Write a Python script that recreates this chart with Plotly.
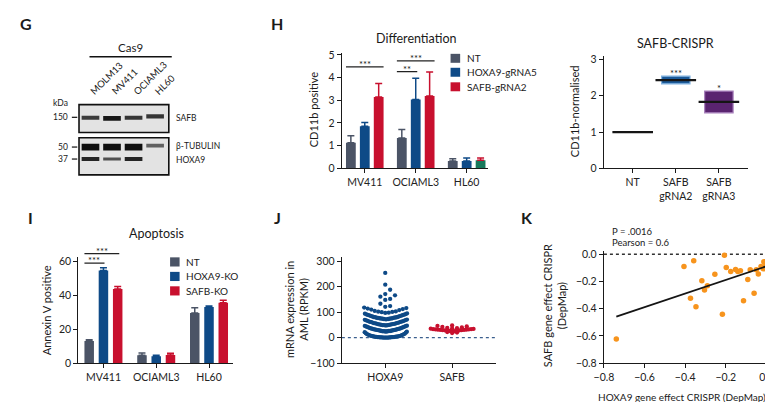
import numpy as np
import plotly.graph_objects as go

FONT = "Lato, 'Open Sans', sans-serif"
W, H = 773, 402

# ---------------- data ----------------
blot_lanes = ["MOLM13", "MV411", "OCIAML3", "HL60"]
blot_safb = [0.70, 0.95, 0.75, 0.75]
blot_tubulin = [1.00, 1.00, 1.00, 0.45]
blot_hoxa9 = [0.85, 0.55, 0.85, 0.00]
blot_kda = ["150", "50", "37"]
blot_proteins = ["SAFB", "β-TUBULIN", "HOXA9"]

diff_cells = ["MV411", "OCIAML3", "HL60"]
diff_nt = [1.13, 1.34, 0.32]
diff_nt_err = [0.31, 0.37, 0.10]
diff_hoxa9 = [1.85, 3.03, 0.32]
diff_hoxa9_err = [0.17, 0.94, 0.13]
diff_safb = [3.15, 3.19, 0.36]
diff_safb_err = [0.59, 1.06, 0.10]
diff_labels = ["NT", "HOXA9-gRNA5", "SAFB-gRNA2"]

crispr_groups = ["NT", "SAFB<br>gRNA2", "SAFB<br>gRNA3"]
crispr_q1 = [1.00, 2.33, 1.53]
crispr_median = [1.00, 2.43, 1.83]
crispr_q3 = [1.00, 2.54, 2.13]
crispr_sig = ["", "***", "*"]

apo_cells = ["MV411", "OCIAML3", "HL60"]
apo_nt = [13.0, 4.6, 29.5]
apo_nt_err = [0.7, 1.3, 3.1]
apo_hoxa9 = [54.6, 4.0, 33.0]
apo_hoxa9_err = [1.6, 0.6, 0.6]
apo_safb = [43.7, 4.8, 35.5]
apo_safb_err = [1.5, 1.0, 1.5]
apo_labels = ["NT", "HOXA9-KO", "SAFB-KO"]

expr_genes = ["HOXA9", "SAFB"]
expr_hoxa9 = [0, 0, 0, 0, 0, 0, 0.5, 0.5, 1, 1, 1, 1.5, 1.5, 2, 2, 2, 2.5, 3, 3, 3.5,
              4, 4, 5, 5, 6, 6, 7, 7, 8, 9, 10, 11, 12, 13, 14, 15, 17, 19, 21, 23,
              24, 24, 25, 25, 25, 26, 26, 26, 27, 27, 28, 28, 29, 29, 30, 30, 31, 31,
              32, 33, 33, 34, 35, 35, 36, 37, 38, 39, 40, 41, 42, 43, 44, 45, 46, 47,
              48, 48, 49, 49, 49, 50, 50, 51, 51, 52, 52, 53, 53, 54, 55, 55, 56, 57,
              57, 58, 59, 60, 61, 62, 62, 63, 64, 65, 66, 67, 68, 69, 70, 71,
              72, 72, 73, 73, 74, 74, 75, 75, 76, 76, 77, 78, 78, 79, 80, 80, 81, 82,
              83, 84, 85, 86, 87, 88, 89, 90, 91, 92, 94, 95,
              97, 98, 100, 101, 102, 103, 105, 108, 110, 112, 114, 116, 118,
              121, 124, 133, 148, 152, 161, 166, 171, 188, 208, 254]
expr_safb = [18, 20, 22, 24, 25, 26, 27, 27, 28, 28, 29, 29, 30, 30, 31, 31, 32, 32,
             33, 33, 34, 35, 36, 37, 38, 40, 42, 44, 46, 48]

dep_hoxa9 = [-0.739, -0.406, -0.358, -0.374, -0.347, -0.318, -0.305, -0.291, -0.254,
             -0.207, -0.198, -0.217, -0.176, -0.152, -0.141, -0.128, -0.113, -0.092,
             -0.080, -0.061, -0.050, -0.040, -0.027, -0.013, -0.005, -0.016]
dep_safb = [-0.623, -0.091, -0.048, -0.323, -0.387, -0.196, -0.263, -0.232, -0.148,
            -0.007, -0.098, -0.442, -0.127, -0.113, -0.127, -0.122, -0.342, -0.186,
            -0.115, -0.287, -0.115, -0.146, -0.091, -0.055, -0.084, -0.108]

# ---------------- style ----------------
C_NT = "#4b5466"
C_HOX = "#0e4a87"
C_SAFB = "#c8102e"
C_GREEN = "#17785b"
C_ORANGE = "#f7941d"
TXT = "#1a1a1a"


def pxx(x):
    return x / W


def pyy(y):
    return 1 - y / H


fig = go.Figure()
annotations = []
shapes = []


def ann(text, x, y, size=10.5, xanchor="center", yanchor="middle", angle=0,
        bold=False, color=TXT, xref="paper", yref="paper", yshift=0, height=None):
    if xref == "paper":
        x = pxx(x)
    if yref == "paper":
        y = pyy(y)
    a = dict(
        text=f"<b>{text}</b>" if bold else text, x=x, y=y, xref=xref, yref=yref,
        xanchor=xanchor, yanchor=yanchor, textangle=angle, showarrow=False, yshift=yshift,
        font=dict(family=FONT, size=size, color=color))
    if height is not None:
        a["height"] = height
        a["valign"] = "top"
    annotations.append(a)


def star(text, x, y, xref, yref):
    ann(text, x, y, size=9.5, yanchor="middle", xref=xref, yref=yref, yshift=4.5, height=7)


def axis_style(**kw):
    d = dict(showline=True, linecolor="#1a1a1a", linewidth=1.3, ticks="outside",
             ticklen=4, tickwidth=1.2, tickcolor="#1a1a1a", showgrid=False,
             zeroline=False, tickfont=dict(family=FONT, size=10.5, color="#222"))
    d.update(kw)
    return d


# ---------------- G: western blot ----------------
lanes_x = [1, 2, 3, 4]
band_layout = [  # (intensities, centre rows, base thickness, extra thickness)
    (blot_safb, [108.5, 109.0, 108.5, 107.0], 2.0, 3.0),
    (blot_tubulin, [138.5, 138.5, 138.5, 137.0], 1.0, 6.0),
    (blot_hoxa9, [150.8, 150.8, 150.8, 150.8], 1.0, 3.5),
]
for inten, rows, th0, th1 in band_layout:
    th = [th0 + th1 * v if v > 0 else 0 for v in inten]
    fig.add_trace(go.Bar(
        x=lanes_x, y=th, base=[r - t / 2 for r, t in zip(rows, th)], width=0.82,
        marker=dict(color=[f"rgba(15,15,15,{0.3 + 0.7 * v:.2f})" for v in inten],
                    line=dict(width=0)),
        xaxis="x", yaxis="y", hoverinfo="skip"))
for y0, y1 in [(95, 123.5), (129, 167)]:
    shapes.append(dict(type="rect", xref="x domain", yref="y", x0=0, x1=1, y0=y0, y1=y1,
                       fillcolor="#e3e3e3", line=dict(color="#111", width=1.6),
                       layer="below"))
for i, lab in enumerate(blot_lanes):
    ann(lab, lanes_x[i] - 0.25, 90, size=9.5, xanchor="left", yanchor="bottom",
        angle=-45, xref="x", yref="y")
ann("Cas9", 115, 36.5, size=11.5)
shapes.append(dict(type="line", xref="paper", yref="paper", x0=pxx(73), x1=pxx(157),
                   y0=pyy(46), y1=pyy(46), line=dict(color="#111", width=1.5)))
ann("kDa", 43, 93, size=8.5)
for lab, yy in zip(blot_kda, [108, 138.5, 150.8]):
    ann(lab, 53, yy, size=8.5, xanchor="right")
    shapes.append(dict(type="line", xref="paper", yref="paper", x0=pxx(55), x1=pxx(60.5),
                       y0=pyy(yy), y1=pyy(yy), line=dict(color="#111", width=1.2)))
for lab, yy in zip(blot_proteins, [109, 137.5, 152]):
    ann(lab, 159.5, yy, size=8.5, xanchor="left")

# ---------------- H: differentiation ----------------
for vals, err, cols, off in [
    (diff_nt, diff_nt_err, [C_NT] * 3, -0.369),
    (diff_hoxa9, diff_hoxa9_err, [C_HOX] * 3, -0.096),
    (diff_safb, diff_safb_err, [C_SAFB, C_SAFB, C_GREEN], 0.177),
]:
    fig.add_trace(go.Bar(
        x=diff_cells, y=vals, offset=off, width=0.192, marker=dict(color=cols, line=dict(width=0)),
        error_y=dict(type="data", symmetric=False, array=err, arrayminus=[0] * 3,
                     color=cols[0], thickness=1.5, width=3.5),
        xaxis="x2", yaxis="y2", hoverinfo="skip"))
for x0, x1, yv, st in [(-0.369, 0.369, 4.47, "***"), (0.63, 1.37, 4.74, "***"),
                       (0.63, 1.03, 4.26, "**")]:
    shapes.append(dict(type="line", xref="x2", yref="y2", x0=x0, x1=x1, y0=yv, y1=yv,
                       line=dict(color="#222", width=1.2)))
    star(st, (x0 + x1) / 2, yv, "x2", "y2")
ann("Differentiation", 406.5, 27, size=12.5)
ann("CD11b positive", 302, 100, size=11, angle=-90)
ann("H", 264, 11.5, size=16, bold=True)
for lab, col, yc in zip(diff_labels, [C_NT, C_HOX, C_SAFB], [47.5, 61.8, 76.7]):
    shapes.append(dict(type="rect", xref="paper", yref="paper", x0=pxx(441.7), x1=pxx(451.5),
                       y0=pyy(yc - 4.6), y1=pyy(yc + 4.6), fillcolor=col, line=dict(width=0)))
    ann(lab, 456.5, yc, size=10, xanchor="left")

# ---------------- SAFB-CRISPR ----------------
fig.add_trace(go.Bar(
    x=crispr_groups, y=[q3 - q1 for q1, q3 in zip(crispr_q1, crispr_q3)], base=crispr_q1,
    width=0.66,
    marker=dict(color=["rgba(0,0,0,0)", "#1b5a99", "#5a2470"],
                line=dict(color=["rgba(0,0,0,0)", "#80b2e0", "#a77fbb"], width=1.2)),
    xaxis="x3", yaxis="y3", hoverinfo="skip"))
fig.add_trace(go.Scatter(
    x=crispr_groups, y=crispr_median, mode="markers",
    marker=dict(symbol="line-ew", size=29, line=dict(color="#151515", width=2.2)),
    xaxis="x3", yaxis="y3", hoverinfo="skip"))
for i, s in enumerate(crispr_sig):
    if s:
        star(s, i, crispr_q3[i], "x3", "y3")
ann("SAFB-CRISPR", 671.5, 32, size=12.5)
ann("CD11b-normalised", 569, 101.5, size=11, angle=-90)

# ---------------- I: apoptosis ----------------
I_DOM = (251.7, 360.0)   # top, bottom in pixels
I_RANGE = (0, 62.3)


def i_paper(v):
    return pyy(I_DOM[1] - (v - I_RANGE[0]) / (I_RANGE[1] - I_RANGE[0]) * (I_DOM[1] - I_DOM[0]))


for vals, err, col, off in [
    (apo_nt, apo_nt_err, C_NT, -0.36),
    (apo_hoxa9, apo_hoxa9_err, C_HOX, -0.09),
    (apo_safb, apo_safb_err, C_SAFB, 0.18),
]:
    fig.add_trace(go.Bar(
        x=apo_cells, y=vals, offset=off, width=0.18, marker=dict(color=col, line=dict(width=0)),
        error_y=dict(type="data", symmetric=False, array=err, arrayminus=[0] * 3,
                     color=col, thickness=1.5, width=3.5),
        xaxis="x4", yaxis="y4", hoverinfo="skip"))
for x0, x1, yv in [(-0.36, 0.30, 64.6), (-0.36, 0.02, 59.0)]:
    shapes.append(dict(type="line", xref="x4", yref="paper", x0=x0, x1=x1,
                       y0=i_paper(yv), y1=i_paper(yv),
                       line=dict(color="#222", width=1.2)))
    annotations.append(dict(text="***", x=(x0 + x1) / 2, y=i_paper(yv), xref="x4",
                            yref="paper", xanchor="center", yanchor="middle", yshift=4.5,
                            height=7, valign="top",
                            showarrow=False, font=dict(family=FONT, size=9.5, color=TXT)))
ann("Apoptosis", 141.5, 227, size=12.5)
ann("Annexin V positive", 28.5, 306, size=11, angle=-90)
ann("I", 13, 210.5, size=16, bold=True)
for lab, col, yc in zip(apo_labels, [C_NT, C_HOX, C_SAFB], [256.3, 271.2, 286.0]):
    shapes.append(dict(type="rect", xref="paper", yref="paper", x0=pxx(155.3), x1=pxx(165),
                       y0=pyy(yc - 4.7), y1=pyy(yc + 4.7), fillcolor=col, line=dict(width=0)))
    ann(lab, 169.3, yc, size=10, xanchor="left")


# ---------------- J: expression swarm ----------------
def swarm(values, centre, bin_w, half_w, step_max):
    vals = np.sort(np.asarray(values, dtype=float))
    bins = np.floor(vals / bin_w)
    xs, ys = [], []
    for b in np.unique(bins):
        v = vals[bins == b]
        n = len(v)
        step = min(step_max, 2 * half_w / max(n - 1, 1))
        for i, val in enumerate(v):
            k = (i + 1) // 2
            sign = 1 if i % 2 else -1
            xs.append(centre + sign * k * step)
            ys.append(val)
    return xs, ys


hx, hy = swarm(expr_hoxa9, 0, 24, 0.315, 0.073)
sx, sy = swarm(expr_safb, 1, 12, 0.32, 0.073)
fig.add_trace(go.Scatter(x=hx, y=hy, mode="markers",
                         marker=dict(color=C_HOX, size=4.3, line=dict(width=0)),
                         xaxis="x5", yaxis="y5", hoverinfo="skip"))
fig.add_trace(go.Scatter(x=sx, y=sy, mode="markers",
                         marker=dict(color=C_SAFB, size=4.3, line=dict(width=0)),
                         xaxis="x5", yaxis="y5", hoverinfo="skip"))
shapes.append(dict(type="line", xref="x5 domain", yref="y5", x0=0, x1=1, y0=0, y1=0,
                   line=dict(color="#3b5f8e", width=1.3, dash="dot"), layer="below"))
ann("mRNA expression in<br>AML (RPKM)", 285, 305.5, size=11, angle=-90)
ann("J", 265, 211, size=16, bold=True)

# ---------------- K: DepMap correlation ----------------
hk = np.array(dep_hoxa9)
sk = np.array(dep_safb)
slope, intercept = np.polyfit(hk, sk, 1)
fx = np.array([hk.min(), hk.max()])
shapes.append(dict(type="line", xref="x6 domain", yref="y6", x0=0, x1=1, y0=0, y1=0,
                   line=dict(color="#333", width=1.4, dash="dot"), layer="below"))
fig.add_trace(go.Scatter(x=hk, y=sk, mode="markers",
                         marker=dict(color=C_ORANGE, size=5.5, line=dict(width=0)),
                         xaxis="x6", yaxis="y6", hoverinfo="skip"))
fig.add_trace(go.Scatter(x=fx, y=slope * fx + intercept, mode="lines",
                         line=dict(color="#151515", width=1.8),
                         xaxis="x6", yaxis="y6", hoverinfo="skip"))
ann("P = .0016", 604.5, 225.5, size=9.5, xanchor="left")
ann("Pearson = 0.6", 604.5, 236.5, size=9.5, xanchor="left")
ann("SAFB gene effect CRISPR<br>(DepMap)", 548, 301, size=11, angle=-90)
ann("HOXA9 gene effect CRISPR (DepMap)", 678, 395, size=10)
ann("K", 520, 210.5, size=16, bold=True)
ann("G", 8, 11.5, size=16, bold=True)

# ---------------- layout ----------------
layout = dict(
    width=W, height=H, margin=dict(l=0, r=0, t=0, b=0),
    paper_bgcolor="white", plot_bgcolor="white", showlegend=False,
    barmode="overlay", font=dict(family=FONT, color=TXT),
    annotations=annotations, shapes=shapes,
    xaxis=dict(domain=[pxx(62.3), pxx(154)], range=[0.468, 4.636], visible=False,
               anchor="y"),
    yaxis=dict(domain=[pyy(175), pyy(88)], range=[175, 88], visible=False, anchor="x"),
    xaxis2=axis_style(domain=[pxx(330.7), pxx(480)], range=[-0.45, 2.42], anchor="y2",
                      type="category", categoryarray=diff_cells),
    yaxis2=axis_style(domain=[pyy(160.3), pyy(41.7)], range=[0, 5.1], anchor="x2",
                      tickvals=[0, 1, 2, 3, 4, 5]),
    xaxis3=axis_style(domain=[pxx(598.3), pxx(745)], range=[-0.668, 2.666], anchor="y3",
                      type="category", categoryarray=crispr_groups),
    yaxis3=axis_style(domain=[pyy(160.3), pyy(45)], range=[0, 3.1], anchor="x3",
                      tickvals=[0, 1, 2, 3]),
    xaxis4=axis_style(domain=[pxx(61.7), pxx(220)], range=[-0.474, 2.463], anchor="y4",
                      type="category", categoryarray=apo_cells),
    yaxis4=axis_style(domain=[pyy(I_DOM[1]), pyy(I_DOM[0])], range=list(I_RANGE), anchor="x4",
                      tickvals=[0, 20, 40, 60]),
    xaxis5=axis_style(domain=[pxx(330.7), pxx(488.3)], range=[-0.649, 1.659], anchor="y5",
                      tickvals=[0, 1], ticktext=expr_genes),
    yaxis5=axis_style(domain=[pyy(360), pyy(251.7)], range=[-100, 315], anchor="x5",
                      tickvals=[-100, 0, 100, 200, 300]),
    xaxis6=axis_style(domain=[pxx(598.3), pxx(765.5)], range=[-0.8, 0.0058], anchor="y6",
                      tickvals=[-0.8, -0.6, -0.4, -0.2, 0.0], tickformat=".1f"),
    yaxis6=axis_style(domain=[pyy(360), pyy(245)], range=[-0.8, 0.024], anchor="x6",
                      tickvals=[-0.8, -0.6, -0.4, -0.2, 0.0], tickformat=".1f"),
)
fig.update_layout(**layout)
fig.write_html("out.html")
